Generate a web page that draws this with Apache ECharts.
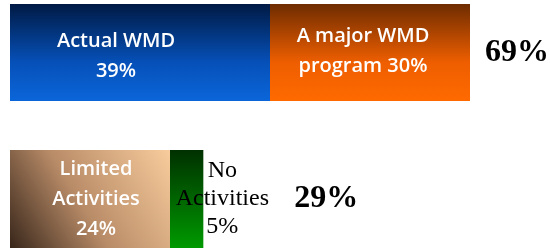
<!DOCTYPE html>
<html>
<head>
<meta charset="utf-8">
<script src="https://cdn.jsdelivr.net/npm/echarts@6/dist/echarts.min.js"></script>
<style>
  html, body { margin: 0; padding: 0; background: #fff; }
  #main { width: 550px; height: 250px; }
</style>
</head>
<body>
<div id="main"></div>
<script>
// data
var rows = ["top", "bottom"];
var topNames = ["Actual WMD", "A major WMD program"];
var topValues = [39, 30];
var bottomNames = ["Limited Activities", "No Activities"];
var bottomValues = [24, 5];
var totals = [69, 29];

var myChart = echarts.init(document.getElementById("main"));

function grad(x, y, x2, y2, stops) {
  return new echarts.graphic.LinearGradient(x, y, x2, y2, stops.map(function (s) {
    return { offset: s[0], color: s[1] };
  }));
}

var whiteLabel = {
  show: true,
  color: "#fff",
  fontFamily: "Open Sans",
  fontWeight: 600,
  fontSize: 20,
  lineHeight: 30
};

var xAx = function (i) {
  return { type: "value", gridIndex: i, min: 0, max: 75, show: false };
};
var yAx = function (i) {
  return { type: "category", gridIndex: i, data: [rows[i]], show: false };
};

myChart.setOption({
  animation: false,
  grid: [
    { left: 10, right: 40, top: 4, height: 97 },
    { left: 10, right: 40, top: 150, height: 98 }
  ],
  xAxis: [xAx(0), xAx(1)],
  yAxis: [yAx(0), yAx(1)],
  series: [
    {
      name: topNames[0], type: "bar", stack: "a", barWidth: "100%",
      xAxisIndex: 0, yAxisIndex: 0,
      data: [topValues[0]],
      itemStyle: { color: grad(0, 0, 0, 1, [[0, "#001a44"], [0.6, "#0650b8"], [1, "#0b66da"]]) },
      label: Object.assign({}, whiteLabel, {
        position: "inside", offset: [-24, 4],
        formatter: "Actual WMD\n{c}%"
      })
    },
    {
      name: topNames[1], type: "bar", stack: "a",
      xAxisIndex: 0, yAxisIndex: 0,
      data: [topValues[1]],
      itemStyle: { color: grad(0, 0, 0, 1, [[0, "#6e2c00"], [0.6, "#ee5e00"], [1, "#ff6a00"]]) },
      label: Object.assign({}, whiteLabel, {
        position: "inside", offset: [-7, -1],
        formatter: "A major WMD\nprogram {c}%"
      })
    },
    {
      name: bottomNames[0], type: "bar", stack: "b", barWidth: "100%",
      xAxisIndex: 1, yAxisIndex: 1,
      data: [bottomValues[0]],
      itemStyle: { color: grad(0, 1, 1, 0, [[0, "#38261a"], [0.45, "#b98c68"], [1, "#f8cc9c"]]) },
      label: Object.assign({}, whiteLabel, {
        position: "inside", offset: [6, 0],
        formatter: "Limited\nActivities\n{c}%"
      })
    },
    {
      name: bottomNames[1], type: "bar", stack: "b",
      xAxisIndex: 1, yAxisIndex: 1,
      data: [bottomValues[1]],
      itemStyle: { color: grad(0, 0, 0, 1, [[0, "#003000"], [1, "#009a00"]]) },
      label: {
        show: true, position: "right", distance: 19, align: "center",
        color: "#000", fontFamily: "Liberation Serif", fontSize: 24, lineHeight: 28,
        formatter: "No\nActivities\n{c}%"
      }
    },
    {
      name: "total top", type: "scatter", symbolSize: 0,
      xAxisIndex: 0, yAxisIndex: 0,
      itemStyle: { opacity: 1 },
      data: [[totals[0], rows[0]]],
      label: {
        show: true, position: "right", distance: 15,
        color: "#000", fontFamily: "Liberation Serif", fontWeight: "bold", fontSize: 32,
        formatter: totals[0] + "%"
      }
    },
    {
      name: "total bottom", type: "scatter", symbolSize: 0,
      xAxisIndex: 1, yAxisIndex: 1,
      itemStyle: { opacity: 1 },
      data: [[totals[1], rows[1]]],
      label: {
        show: true, position: "right", distance: 91,
        color: "#000", fontFamily: "Liberation Serif", fontWeight: "bold", fontSize: 32,
        formatter: totals[1] + "%"
      }
    }
  ]
});
</script>
</body>
</html>
